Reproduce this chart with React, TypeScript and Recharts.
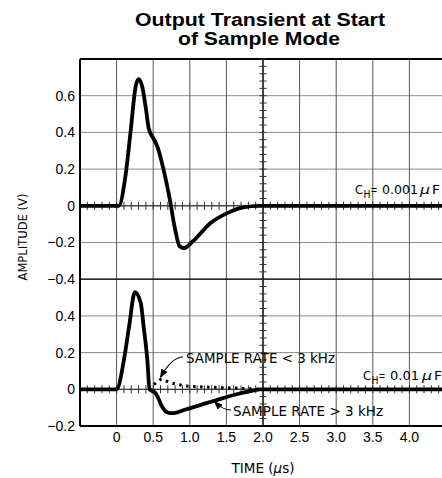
import React from 'react';
import { LineChart, Line, XAxis, YAxis, CartesianGrid, ReferenceLine } from 'recharts';

// Upper trace: C_H = 0.001 uF (amplitude in volts vs time in microseconds)
const upperTime = [-0.5, 0, 0.03, 0.12, 0.19, 0.26, 0.3, 0.35, 0.4, 0.44, 0.5, 0.56, 0.64, 0.72, 0.8, 0.86, 0.92, 1.05, 1.28, 1.51, 1.73, 1.95, 4.5];
const upperAmp = [0, 0, 0, 0.16, 0.4, 0.65, 0.69, 0.65, 0.53, 0.42, 0.37, 0.32, 0.2, 0.05, -0.13, -0.22, -0.23, -0.19, -0.095, -0.04, -0.008, 0, 0];

// Lower trace: C_H = 0.01 uF, sample rate > 3 kHz
const lowerTime = [-0.5, 0, 0.1, 0.17, 0.25, 0.33, 0.37, 0.42, 0.45, 0.49, 0.53, 0.56, 0.62, 0.71, 0.78, 0.92, 1.14, 1.37, 1.6, 1.83, 1.97, 4.5];
const lowerAmp = [0, 0, 0.16, 0.34, 0.53, 0.47, 0.34, 0.16, 0.0, -0.01, -0.02, -0.04, -0.094, -0.128, -0.13, -0.113, -0.086, -0.058, -0.031, -0.01, 0, 0];

// Lower trace: sample rate < 3 kHz (dotted)
const slowTime = [0.44, 0.48, 0.53, 0.58, 0.62, 0.68, 0.74, 0.83, 0.94, 1.1, 1.4, 1.7, 1.97];
const slowAmp = [0.0, 0.015, 0.033, 0.05, 0.055, 0.045, 0.036, 0.027, 0.018, 0.014, 0.01, 0.005, 0];

// Axis ticks (the upper panel is shifted up by 1.0 on a shared axis)
const UPPER_OFFSET = 1.0;
const yTicks = [-0.2, 0, 0.2, 0.4, 0.6, 0.8, 1.0, 1.2, 1.4, 1.6, 1.8];
const yTickLabels = ['\u22120.2', '0', '0.2', '0.4', '\u22120.4', '\u22120.2', '0', '0.2', '0.4', '0.6', ''];
const xTicks = [-0.5, 0, 0.5, 1.0, 1.5, 2.0, 2.5, 3.0, 3.5, 4.0, 4.5];
const xTickLabels = ['', '0', '0.5', '1.0', '1.5', '2.0', '2.5', '3.0', '3.5', '4.0', ''];

const upperData = upperTime.map((t, i) => ({ t, v: upperAmp[i] + UPPER_OFFSET }));
const lowerData = lowerTime.map((t, i) => ({ t, v: lowerAmp[i] }));
const slowData = slowTime.map((t, i) => ({ t, v: slowAmp[i] }));

const X_MIN = -0.5, X_MAX = 4.5, Y_MIN = -0.2, Y_MAX = 1.8;
const hTickPos: number[] = [];
for (let i = 0; i <= 50; i++) hTickPos.push(+(X_MIN + i * 0.1).toFixed(2));
const vTickPos: number[] = [];
for (let i = 0; i <= 50; i++) vTickPos.push(+(Y_MIN + i * 0.04).toFixed(3));

const findLabel = (arr: number[], labels: string[], v: number) => {
  const i = arr.findIndex((a) => Math.abs(a - v) < 1e-6);
  return i >= 0 ? labels[i] : '';
};

// layout
const PL = 80, PR = 446, PT = 59, PB = 426;
const px = (x: number) => PL + ((x - X_MIN) / (X_MAX - X_MIN)) * (PR - PL);
const py = (y: number) => PT + ((Y_MAX - y) / (Y_MAX - Y_MIN)) * (PB - PT);

const FONT = 'Liberation Sans, Arial, Helvetica, sans-serif';
const NFONT = 'DejaVu Sans, sans-serif';

const TXT = { fontFamily: NFONT, fill: '#000' } as const;

export default function App() {
  return (
    <div style={{ position: 'fixed', left: 0, top: 0, width: 442, height: 478, overflow: 'hidden', background: '#fff' }}>
      <LineChart width={450} height={478} margin={{ top: PT, right: 450 - PR, bottom: 0, left: 0 }}>
        <CartesianGrid horizontal={true} vertical={false} stroke="#8a8a8a" strokeWidth={1} />
        <CartesianGrid horizontal={false} vertical={true} stroke="#555" strokeWidth={1} />
        <XAxis
          dataKey="t"
          type="number"
          domain={[X_MIN, X_MAX]}
          ticks={xTicks}
          interval={0}
          allowDataOverflow
          height={478 - PB}
          tickLine={false}
          tickSize={0}
          tickMargin={6}
          axisLine={{ stroke: '#000', strokeWidth: 2 }}
          tick={{ fill: '#000', fontSize: 14, fontFamily: FONT }}
          tickFormatter={(v: number) => findLabel(xTicks, xTickLabels, v)}
        />
        <YAxis
          type="number"
          domain={[Y_MIN, Y_MAX]}
          ticks={yTicks}
          interval={0}
          allowDataOverflow
          width={PL}
          tickLine={false}
          tickSize={0}
          tickMargin={5}
          axisLine={{ stroke: '#000', strokeWidth: 2 }}
          tick={{ fill: '#000', fontSize: 14, fontFamily: FONT }}
          tickFormatter={(v: number) => findLabel(yTicks, yTickLabels, v)}
        />
        <ReferenceLine y={Y_MAX} stroke="#000" strokeWidth={2} />
        <ReferenceLine y={0.6} stroke="#000" strokeWidth={1.2} />
        <ReferenceLine y={0} stroke="#222" strokeWidth={1} />
        <ReferenceLine y={UPPER_OFFSET} stroke="#222" strokeWidth={1} />
        <ReferenceLine x={2} stroke="#000" strokeWidth={1.2} />
        {hTickPos.map((t) => (
          <ReferenceLine key={'a' + t} segment={[{ x: t, y: -0.022 }, { x: t, y: 0.022 }]} stroke="#333" strokeWidth={1} />
        ))}
        {hTickPos.map((t) => (
          <ReferenceLine key={'b' + t} segment={[{ x: t, y: UPPER_OFFSET - 0.022 }, { x: t, y: UPPER_OFFSET + 0.022 }]} stroke="#333" strokeWidth={1} />
        ))}
        {vTickPos.map((y) => (
          <ReferenceLine key={'c' + y} segment={[{ x: 1.952, y }, { x: 2.048, y }]} stroke="#333" strokeWidth={1} />
        ))}
        <Line data={slowData} dataKey="v" type="monotone" stroke="#000" strokeWidth={3} strokeDasharray="2.5 4.5" dot={false} isAnimationActive={false} />
        <Line data={lowerData} dataKey="v" type="monotone" stroke="#000" strokeWidth={3.8} dot={false} isAnimationActive={false} />
        <Line data={upperData} dataKey="v" type="monotone" stroke="#000" strokeWidth={3.8} dot={false} isAnimationActive={false} />
      </LineChart>
      <svg width={442} height={478} style={{ position: 'absolute', left: 0, top: 0, pointerEvents: 'none' }}>
        <defs>
          <marker id="ah" markerUnits="userSpaceOnUse" markerWidth={9} markerHeight={7} refX={8} refY={3.5} orient="auto">
            <path d="M0,0 L9,3.5 L0,7 z" fill="#000" />
          </marker>
        </defs>
        <text x={135} y={26} fontFamily={FONT} fontWeight="bold" fontSize={17.5} fill="#000" textLength={250} lengthAdjust="spacingAndGlyphs">Output Transient at Start</text>
        <text x={178} y={44.5} fontFamily={FONT} fontWeight="bold" fontSize={17.5} fill="#000" textLength={162} lengthAdjust="spacingAndGlyphs">of Sample Mode</text>

        <text x={22} y={237} transform="rotate(-90 22 237)" dy={4.5} textAnchor="middle" fontFamily={NFONT} fontSize={13} fill="#000" textLength={87} lengthAdjust="spacingAndGlyphs">AMPLITUDE (V)</text>
        <text x={263} y={473} textAnchor="middle" fontFamily={NFONT} fontSize={13.5} fill="#000">
          TIME (<tspan fontStyle="italic">μ</tspan>s)
        </text>

        {/* C_H = 0.001 uF */}
        <text x={355} y={194} {...TXT} fontSize={13} textLength={8} lengthAdjust="spacingAndGlyphs">C</text>
        <text x={363.5} y={198} {...TXT} fontSize={11} textLength={7} lengthAdjust="spacingAndGlyphs">H</text>
        <text x={370.5} y={194} {...TXT} fontSize={13} textLength={7} lengthAdjust="spacingAndGlyphs">=</text>
        <text x={382} y={194} {...TXT} fontSize={13} textLength={36} lengthAdjust="spacingAndGlyphs">0.001</text>
        <text x={420} y={194} {...TXT} fontSize={13} fontStyle="italic" textLength={10} lengthAdjust="spacingAndGlyphs">μ</text>
        <text x={432} y={194} {...TXT} fontSize={13} textLength={8} lengthAdjust="spacingAndGlyphs">F</text>

        {/* C_H = 0.01 uF */}
        <text x={363} y={380} {...TXT} fontSize={13} textLength={8} lengthAdjust="spacingAndGlyphs">C</text>
        <text x={371.5} y={384} {...TXT} fontSize={11} textLength={7} lengthAdjust="spacingAndGlyphs">H</text>
        <text x={378.5} y={380} {...TXT} fontSize={13} textLength={7} lengthAdjust="spacingAndGlyphs">=</text>
        <text x={390} y={380} {...TXT} fontSize={13} textLength={29} lengthAdjust="spacingAndGlyphs">0.01</text>
        <text x={422} y={380} {...TXT} fontSize={13} fontStyle="italic" textLength={10} lengthAdjust="spacingAndGlyphs">μ</text>
        <text x={434} y={380} {...TXT} fontSize={13} textLength={8} lengthAdjust="spacingAndGlyphs">F</text>

        <text x={186} y={362.5} {...TXT} fontSize={13.5} textLength={149} lengthAdjust="spacingAndGlyphs">SAMPLE RATE &lt; 3 kHz</text>
        <text x={233} y={416} {...TXT} fontSize={13.5} textLength={150} lengthAdjust="spacingAndGlyphs">SAMPLE RATE &gt; 3 kHz</text>

        <path d={`M 183 357 C 175 357, 168 364, ${px(0.62) - 1.5} ${py(0.055) - 2}`} fill="none" stroke="#000" strokeWidth={1.2} markerEnd="url(#ah)" />
        <path d={`M 231 410 C 225 410, 221 408, ${px(1.33) + 0.5} ${py(-0.062) + 1}`} fill="none" stroke="#000" strokeWidth={1.2} markerEnd="url(#ah)" />
      </svg>
    </div>
  );
}
